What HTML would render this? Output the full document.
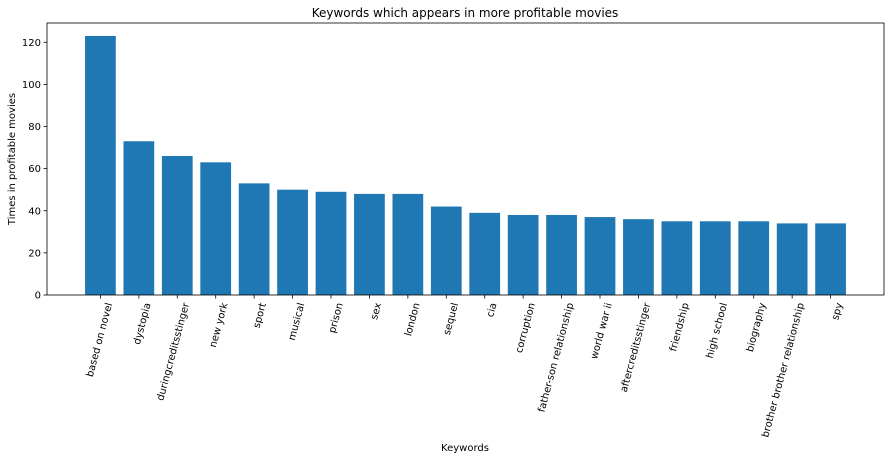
<!DOCTYPE html>
<html><head><meta charset="utf-8"><style>
body{margin:0;background:#fff;}
svg{display:block;font-family:"DejaVu Sans","Liberation Sans",sans-serif;}
</style></head><body>
<svg id="chart" width="894" height="460" viewBox="0 0 894 460" xmlns="http://www.w3.org/2000/svg">
<text x="465" y="17" text-anchor="middle" font-size="12">Keywords which appears in more profitable movies</text>
<g id="plot"></g>
<text x="465" y="451" text-anchor="middle" font-size="10">Keywords</text>
<text transform="translate(15,159) rotate(-90)" text-anchor="middle" font-size="10">Times in profitable movies</text>
</svg>
<script>
const categories = ["based on novel","dystopia","duringcreditsstinger","new york","sport","musical","prison","sex","london","sequel","cia","corruption","father-son relationship","world war ii","aftercreditsstinger","friendship","high school","biography","brother brother relationship","spy"];
const counts = [123,73,66,63,53,50,49,48,48,42,39,38,38,37,36,35,35,35,34,34];
const yTicks = [0,20,40,60,80,100,120];

const NS="http://www.w3.org/2000/svg";
const L=47,R=884,T=23,B=295;
const n=categories.length;
const xmin=-0.4-0.05*(n-1+0.8), xmax=n-1+0.4+0.05*(n-1+0.8);
const ymax=Math.max(...counts)*1.05;
const xs=v=>L+(v-xmin)/(xmax-xmin)*(R-L);
const ys=v=>B-v/ymax*(B-T);
const g=document.getElementById('plot');
function mk(tag,attrs){const e=document.createElementNS(NS,tag);for(const k in attrs)e.setAttribute(k,attrs[k]);g.appendChild(e);return e;}
counts.forEach((v,i)=>{
  const r=mk('rect',{x:xs(i-0.4),y:ys(v),width:xs(i+0.4)-xs(i-0.4),height:B-ys(v),fill:'#1f77b4'});
  
  
  const t=mk('line',{x1:xs(i),x2:xs(i),y1:B,y2:B+3.5,stroke:'#000','stroke-width':0.8});
  
  
  const lb=mk('text',{transform:`translate(${xs(i)+9},${B+8}) rotate(-75)`,'text-anchor':'end','font-size':10,'dominant-baseline':'middle'});
  lb.textContent=categories[i];
  
  
});
yTicks.forEach(v=>{
  const t=mk('line',{x1:L-3.5,x2:L,y1:ys(v),y2:ys(v),stroke:'#000','stroke-width':0.8});
  
  
  const lb=mk('text',{x:L-6,y:ys(v)+3.5,'text-anchor':'end','font-size':10});
  lb.textContent=v;
  
  
});
const f=mk('rect',{x:L,y:T,width:R-L,height:B-T,fill:'none',stroke:'#000','stroke-width':0.8});


</script>
</body></html>
